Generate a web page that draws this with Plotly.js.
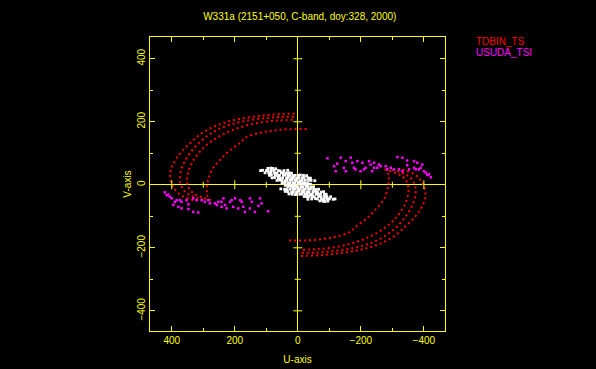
<!DOCTYPE html>
<html>
<head>
<meta charset="utf-8">
<script src="https://cdn.plot.ly/plotly-3.0.1.min.js"></script>
<style>
  html, body { margin: 0; padding: 0; background: #000; }
  #chart { width: 596px; height: 369px; }
</style>
</head>
<body>
<div id="chart"></div>
<script>
// ---- Data (u, v in the same units as the axes) ----
// Red (TDBIN_TS) tracks, positive-u half; the conjugate half is (-u, -v)
const arcA_u = [10, 79, 132, 185, 227, 270, 307, 338, 365, 386, 400, 405, 402, 391, 376, 354, 328];
const arcA_v = [226, 223, 217, 209, 199, 183, 162, 135, 109, 82, 56, 35, 8, -13, -29, -41, -50];
const arcB_u = [12, 60, 100, 153, 206, 248, 286, 317, 344, 363, 373, 373, 365, 349, 323, 291];
const arcB_v = [216, 215, 212, 205, 193, 178, 156, 130, 98, 66, 35, 8, -13, -29, -41, -50];
const arcC_u = [16, 60, 111, 164, 211, 254, 291, 317, 338, 349, 351, 344, 328, 301, 270];
const arcC_v = [206, 204, 199, 188, 172, 151, 125, 98, 66, 35, 8, -13, -29, -41, -50];
const arcD_u = [-28, 36, 78, 120, 163, 185, 222, 248, 270, 282, 288, 288, 282];
const arcD_v = [177, 176, 172, 165, 151, 132, 104, 77, 51, 24, -2, -29, -50];

// Magenta (USUDA_TSI) points, positive-u half
const usuda_u = [422, 416, 411, 406, 400, 390, 384, 374, 369, 353, 347, 332, 321, 305, 295, 284, 279, 263, 252, 242, 236, 231, 215, 210, 199, 183, 178, 152, 146, 120, 115, 395, 379, 369, 347, 332, 316, 257, 242, 226, 205, 189, 173, 168, 152, 136, 125, 94];
const usuda_v = [-24, -33, -31, -38, -43, -54, -49, -49, -54, -49, -62, -43, -49, -49, -54, -49, -59, -59, -54, -54, -43, -64, -54, -49, -43, -49, -54, -43, -54, -43, -59, -64, -70, -75, -77, -86, -88, -64, -70, -75, -70, -75, -70, -86, -75, -86, -67, -84];

// White (unlabelled) cluster, upper half; the conjugate half is (-u, -v)
const white_u = [95, 86, 80, 70,
  118, 112, 100, 94, 84, 75, 62, 56, 44, 32,
  104, 92, 85, 74, 66, 52, 46, 36, 28, 20,
  90, 84, 72, 64, 58, 46, 40, 30, 24, 14, 8, -2, -8, -18, -28,
  82, 74, 62, 56, 48, 36, 30, 20, 14, 4, -4, -14, -20, -32, -40,
  66, 58, 50, 40, 34, 24, 18, 8, 2, -8, -14, -24, -34, -42, -54,
  50, 42, 32, 26, 16, 10, 0, -6, -16, -22, -32,
  40, 30, 24, 14, 6];
const white_v = [52, 53, 52, 51,
  45, 46, 45, 44, 45, 46, 45, 44, 45, 46,
  38, 37, 38, 38, 37, 38, 38, 37, 38, 37,
  30, 31, 30, 29, 30, 30, 31, 30, 30, 29, 30, 30, 31, 30, 29,
  22, 23, 22, 21, 22, 22, 23, 22, 22, 21, 22, 22, 23, 22, 21,
  14, 15, 14, 13, 14, 14, 15, 14, 14, 13, 14, 14, 15, 14, 13,
  6, 7, 6, 5, 6, 6, 7, 6, 6, 5, 6,
  -2, -1, -2, -3, -2];

// Axis ticks
const majorTicks = [-400, -200, 200, 400];
const minorTicks = [-300, -100, 100, 300];
const tickVals = [-400, -200, 0, 200, 400];

const titleText = 'W331a (2151+050, C-band, doy:328, 2000)';
const legendNames = ['TDBIN_TS', 'USUDA_TSI'];
const legendColors = ['#ff0000', '#ff00ff'];

// ---- Build traces ----
const neg = a => a.map(x => -x);
const FONT = 'Liberation Sans, Arial, sans-serif';
const YEL = '#ffff00';

const traces = [];
function addArc(u, v) {
  [[u, v], [neg(u), neg(v)]].forEach(([uu, vv]) => {
    traces.push({
      x: uu, y: vv, type: 'scatter', mode: 'lines', showlegend: false,
      hoverinfo: 'skip',
      line: { color: legendColors[0], width: 2, dash: '2px,3px', shape: 'spline', smoothing: 1 }
    });
  });
}
addArc(arcA_u, arcA_v);
addArc(arcB_u, arcB_v);
addArc(arcC_u, arcC_v);
addArc(arcD_u, arcD_v);

traces.push({
  x: usuda_u.concat(neg(usuda_u)), y: usuda_v.concat(neg(usuda_v)),
  type: 'scatter', mode: 'markers', name: legendNames[1], showlegend: false,
  marker: { symbol: 'square', size: 2.5, color: legendColors[1], line: { width: 0 } }
});
traces.push({
  x: white_u.concat(neg(white_u)), y: white_v.concat(neg(white_v)),
  type: 'scatter', mode: 'markers', showlegend: false,
  marker: { symbol: 'square', size: 2.8, color: '#ffffff', line: { width: 0 } }
});

// Ticks drawn on the zero lines (cross axes)
const shapes = [];
function zeroTicks(vals, half) {
  vals.forEach(t => {
    shapes.push({ type: 'line', xref: 'x', yref: 'y', x0: t, x1: t,
      ysizemode: 'pixel', yanchor: 0, y0: -half, y1: half,
      line: { color: YEL, width: 1 } });
    shapes.push({ type: 'line', xref: 'x', yref: 'y', y0: t, y1: t,
      xsizemode: 'pixel', xanchor: 0, x0: -half, x1: half,
      line: { color: YEL, width: 1 } });
  });
}
zeroTicks(majorTicks, 4.5);
zeroTicks(minorTicks, 3);

const axisCommon = {
  showgrid: false, zeroline: true, zerolinecolor: YEL, zerolinewidth: 1,
  showline: true, linecolor: YEL, linewidth: 1, mirror: 'allticks',
  ticks: 'inside', ticklen: 5, tickwidth: 1, tickcolor: YEL,
  tickmode: 'array', tickvals: tickVals,
  minor: { tickmode: 'array', tickvals: minorTicks, ticks: 'inside', ticklen: 3, tickcolor: YEL, tickwidth: 1, showgrid: false },
  tickfont: { family: FONT, size: 10, color: YEL },
  fixedrange: true
};

const layout = {
  width: 596, height: 369,
  paper_bgcolor: '#000', plot_bgcolor: '#000',
  margin: { l: 150, r: 151, t: 37, b: 38 },
  showlegend: false,
  title: { text: titleText, x: 0.503, xanchor: 'center', y: 0.955, yanchor: 'middle',
    font: { family: FONT, size: 10, color: YEL } },
  xaxis: Object.assign({}, axisCommon, {
    range: [469, -467], autorange: false,
    title: { text: 'U-axis', font: { family: FONT, size: 10, color: YEL }, standoff: 10 }
  }),
  yaxis: Object.assign({}, axisCommon, {
    range: [-464, 469], autorange: false, tickangle: -90,
    title: { text: 'V-axis', font: { family: FONT, size: 10, color: YEL }, standoff: 2 }
  }),
  shapes: shapes,
  annotations: legendNames.map((n, i) => ({
    text: n, xref: 'paper', yref: 'paper', x: 1.098, y: i === 0 ? 0.984 : 0.948,
    xanchor: 'left', yanchor: 'middle', showarrow: false,
    font: { family: FONT, size: 10, color: legendColors[i] }
  }))
};

Plotly.newPlot('chart', traces, layout, { displayModeBar: false, staticPlot: true });
</script>
</body>
</html>
